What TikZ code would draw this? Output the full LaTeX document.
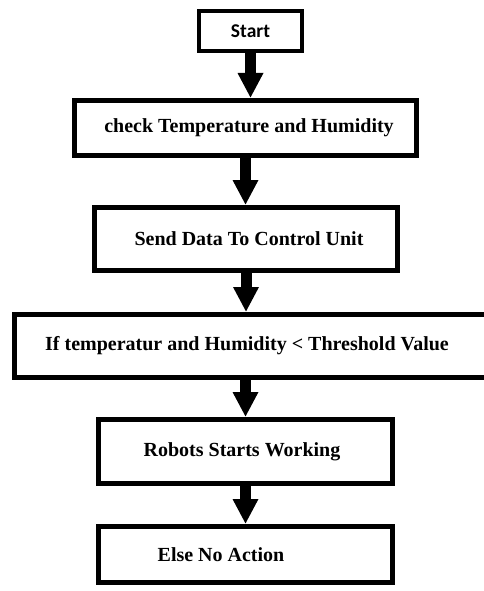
\documentclass[tikz,border=0pt]{standalone}
\usepackage{fontspec}
\setmainfont{Liberation Serif}
\newfontfamily\startfont{Carlito}
\usetikzlibrary{arrows.meta}

\begin{document}
\begin{tikzpicture}[x=1pt,y=-1pt,
  box/.style={draw=black,line width=5pt,fill=white,inner sep=0pt,align=center,
    font=\fontsize{20}{24}\selectfont\bfseries},
  startbox/.style={box,line width=4pt,font=\startfont\fontsize{19.5}{22}\selectfont\bfseries},
  arr/.style={-{Triangle[width=24pt,length=25pt]},line width=11pt}]
  \clip (0,0) rectangle (484,591);
  \fill[white] (0,0) rectangle (484,591);
  \node[startbox,minimum width=103pt,minimum height=40pt] (start) at (250.5,31) {Start};
  \node[box,minimum width=342pt,minimum height=55pt] (check) at (245.5,128)
    {\hspace*{7pt}check Temperature and Humidity};
  \node[box,minimum width=303pt,minimum height=63pt] (send) at (246,239)
    {\hspace*{6pt}Send Data To Control Unit};
  \node[box,minimum width=475pt,minimum height=63pt] (thresh) at (252,346)
    {If temperatur and Humidity < Threshold Value\hspace*{10pt}};
  \node[box,minimum width=294pt,minimum height=64pt] (robots) at (245.5,451.5)
    {Robots Starts Working\hspace*{7pt}};
  \node[box,minimum width=294pt,minimum height=56pt] (else) at (245.5,554.5)
    {Else No Action\hspace*{49pt}};
  \draw[arr] (start.south)--(start.south |- check.north);
  \draw[arr] (check.south)--(check.south |- send.north);
  \draw[arr] (send.south)--(send.south |- thresh.north);
  \draw[arr] (robots.north |- thresh.south)--(robots.north);
  \draw[arr] (robots.south)--(else.north);
\end{tikzpicture}
\end{document}
